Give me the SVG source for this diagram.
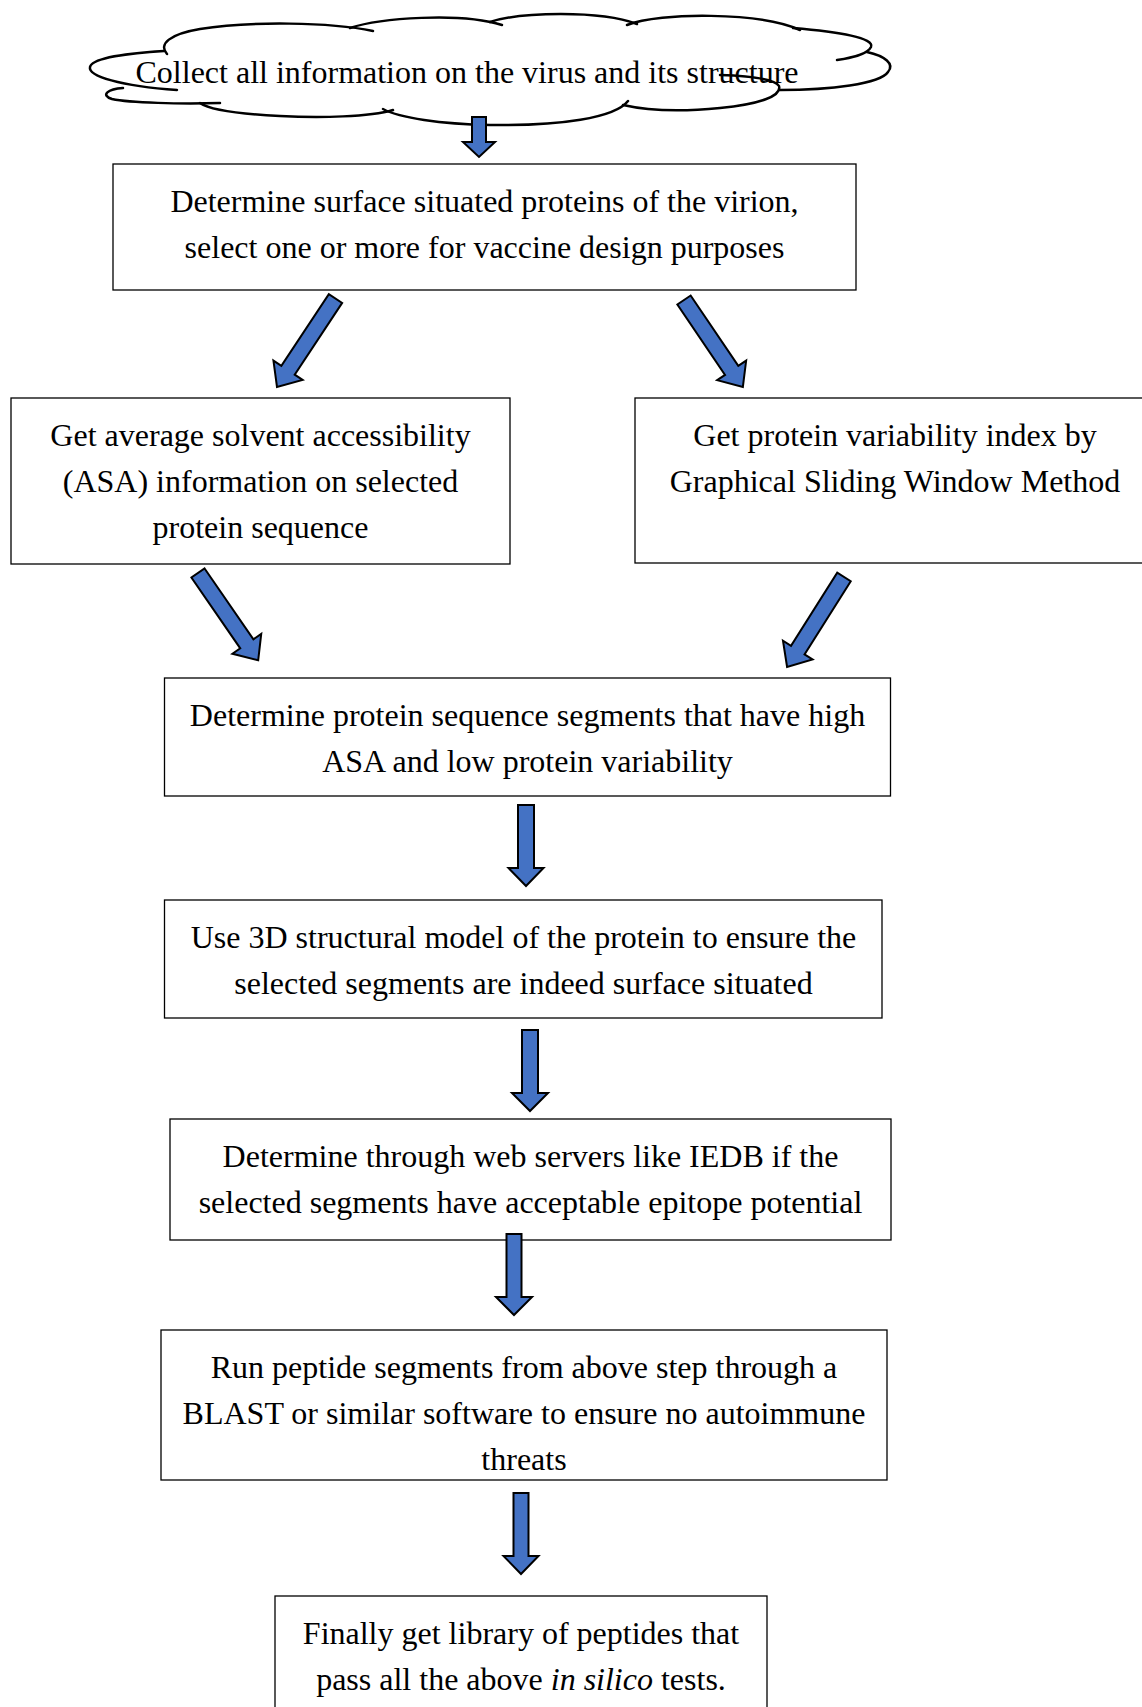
<svg xmlns="http://www.w3.org/2000/svg" width="1142" height="1707" viewBox="0 0 1142 1707">
<style>
.box{fill:#fff;stroke:#000;stroke-width:1.3}
.t{font-family:"Liberation Serif","Times New Roman",serif;font-size:32px;text-anchor:middle;fill:#000}
.arr{fill:#4472C4;stroke:#000;stroke-width:2;stroke-linejoin:miter}
.cl{fill:none;stroke:#000;stroke-width:2.5;stroke-linecap:round}
</style>
<rect width="1142" height="1707" fill="#fff"/>
<g id="n0">
  <path class="cl" d="M167,54 C158,44 170,34 200,29 C250,21 330,22 373,31"/>
  <path class="cl" d="M350,28 C380,18 460,12 502,25"/>
  <path class="cl" d="M490,22 C520,12 600,10 637,24"/>
  <path class="cl" d="M627,25 C660,12 760,12 800,30"/>
  <path class="cl" d="M793,28 C840,32 875,38 871,47 C867,55 850,58 837,60"/>
  <path class="cl" d="M867,52 C885,56 895,64 888,72 C880,84 830,90 780,90"/>
  <path class="cl" d="M720,75 C750,76 775,79 779,86 C782,96 760,104 720,108 C680,112 645,110 623,105"/>
  <path class="cl" d="M628,101 C615,118 560,126 490,125 C440,124 400,118 383,109"/>
  <path class="cl" d="M393,110 C370,117 320,118 280,116 C240,114 210,110 200,103"/>
  <path class="cl" d="M220,103 C180,104 130,103 112,99 C100,95 108,89 123,88"/>
  <path class="cl" d="M164,51 C130,53 92,58 90,67 C88,76 120,86 177,90"/>
  <text class="t" x="467" y="83">Collect all information on the virus and its structure</text>
</g>
<g id="n1">
  <rect class="box" x="113" y="164" width="743" height="126"/>
  <text class="t" x="484.5" y="212">Determine surface situated proteins of the virion,</text>
  <text class="t" x="484.5" y="258">select one or more for vaccine design purposes</text>
</g>
<g id="n2">
  <rect class="box" x="11" y="398" width="499" height="166"/>
  <text class="t" x="260.5" y="446">Get average solvent accessibility</text>
  <text class="t" x="260.5" y="492">(ASA) information on selected</text>
  <text class="t" x="260.5" y="538">protein sequence</text>
</g>
<g id="n3">
  <rect class="box" x="635" y="398" width="525" height="165"/>
  <text class="t" x="895" y="446">Get protein variability index by</text>
  <text class="t" x="895" y="492">Graphical Sliding Window Method</text>
</g>
<g id="n4">
  <rect class="box" x="164.5" y="678" width="726" height="118"/>
  <text class="t" x="527.5" y="726">Determine protein sequence segments that have high</text>
  <text class="t" x="527.5" y="772">ASA and low protein variability</text>
</g>
<g id="n5">
  <rect class="box" x="164.5" y="900" width="717.5" height="118"/>
  <text class="t" x="523.5" y="948">Use 3D structural model of the protein to ensure the</text>
  <text class="t" x="523.5" y="994">selected segments are indeed surface situated</text>
</g>
<g id="n6">
  <rect class="box" x="170" y="1119" width="721" height="121"/>
  <text class="t" x="530.5" y="1167">Determine through web servers like IEDB if the</text>
  <text class="t" x="530.5" y="1213">selected segments have acceptable epitope potential</text>
</g>
<g id="n7">
  <rect class="box" x="161" y="1330" width="726" height="150"/>
  <text class="t" x="524" y="1378">Run peptide segments from above step through a</text>
  <text class="t" x="524" y="1424">BLAST or similar software to ensure no autoimmune</text>
  <text class="t" x="524" y="1470">threats</text>
</g>
<g id="n8">
  <rect class="box" x="275" y="1596" width="492" height="130"/>
  <text class="t" x="521" y="1644">Finally get library of peptides that</text>
  <text class="t" x="521" y="1690">pass all the above <tspan font-style="italic">in silico</tspan> tests.</text>
</g>
<g id="connectors">
  <polygon class="arr" points="472,117 486,117 486,142 495,142 479,157 463,142 472,142"/>
  <path class="arr" transform="translate(335.5,298.5) rotate(123.5)" d="M0,-8 L86,-8 L86,-17.5 L106,0 L86,17.5 L86,8 L0,8 Z"/>
  <path class="arr" transform="translate(684,300) rotate(55.9)" d="M0,-8 L85,-8 L85,-17.5 L105,0 L85,17.5 L85,8 L0,8 Z"/>
  <path class="arr" transform="translate(198,573) rotate(55.4)" d="M0,-8 L86,-8 L86,-17.5 L106,0 L86,17.5 L86,8 L0,8 Z"/>
  <path class="arr" transform="translate(844,577) rotate(122.3)" d="M0,-8 L86.5,-8 L86.5,-17.5 L106.5,0 L86.5,17.5 L86.5,8 L0,8 Z"/>
  <polygon class="arr" points="518,805 534,805 534,868 543.5,868 526,886 508.5,868 518,868"/>
  <polygon class="arr" points="522,1030 538,1030 538,1093 548,1093 530,1111 512,1093 522,1093"/>
  <polygon class="arr" points="506.5,1234 521.5,1234 521.5,1297 532,1297 514,1315 496,1297 506.5,1297"/>
  <polygon class="arr" points="513.5,1493 528.5,1493 528.5,1556 538.5,1556 521,1574 503.5,1556 513.5,1556"/>
</g>
</svg>
